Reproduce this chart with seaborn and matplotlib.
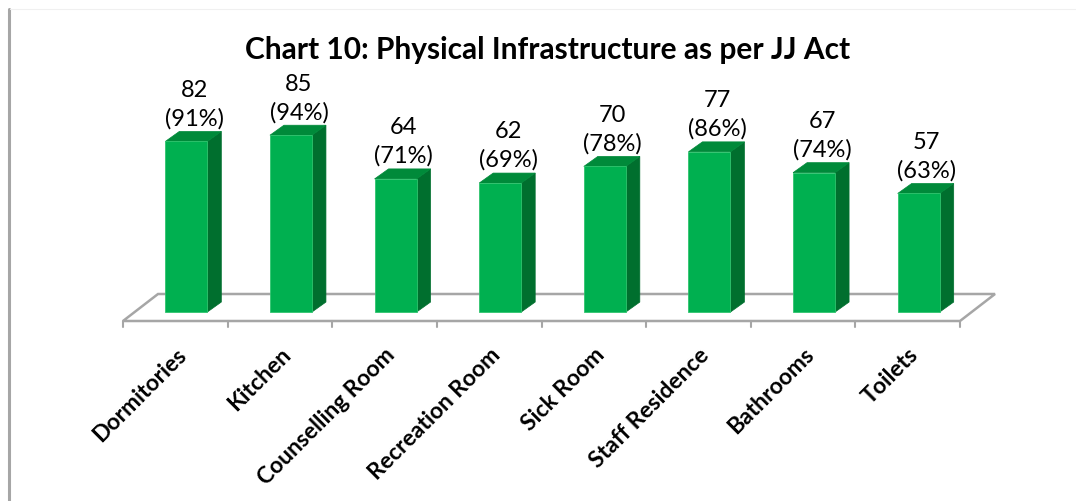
import matplotlib
matplotlib.use("Agg")
import matplotlib.pyplot as plt
import seaborn as sns
import pandas as pd
from matplotlib.patches import Polygon
from matplotlib.lines import Line2D

categories = ["Dormitories", "Kitchen", "Counselling Room", "Recreation Room",
              "Sick Room", "Staff Residence", "Bathrooms", "Toilets"]
counts = [82, 85, 64, 62, 70, 77, 67, 57]
percents = ["91%", "94%", "71%", "69%", "78%", "86%", "74%", "63%"]
title = "Chart 10: Physical Infrastructure as per JJ Act"

sns.set_theme(style="white")
plt.rcParams['font.family'] = ['Lato', 'DejaVu Sans']

W, H = 1076, 502
fig = plt.figure(figsize=(W / 100, H / 100), dpi=100)
# axes: x from -0.5..7.5 -> px 123..960 ; y from -4.3..105 -> px 322..94.6
ax = fig.add_axes([123 / W, 1 - 322 / H, (960 - 123) / W, (322 - 94.6) / H])
ax.set_xlim(-0.5, 7.5)
ax.set_ylim(-4.3, 105)

df = pd.DataFrame({"cat": categories, "val": counts})

front = "#00b050"
side = "#006f2e"
top = "#008a3a"
floor_c = "#a6a6a6"

# pixel-to-data scales
sx = 1 / 104.6
sy = (105 + 4.3) / (322 - 94.6)

# floor parallelogram
y_front = -4.3
fdx, fdy = 35 * sx, 27 * sy
floor = Polygon([(-0.5, y_front), (7.5, y_front), (7.5 + fdx, y_front + fdy),
                 (-0.5 + fdx, y_front + fdy)], closed=True, facecolor="white",
                edgecolor=floor_c, linewidth=1.8, clip_on=False, zorder=1)
ax.add_patch(floor)

# bars
bw = 42 * sx
sns.barplot(data=df, x="cat", y="val", color=front, width=bw, ax=ax,
            saturation=1, zorder=3, edgecolor="#2fc46e", linewidth=0.6)

ddx, ddy = 14 * sx, 10 * sy
for p in [pp for pp in ax.patches if pp is not floor]:
    x0 = p.get_x() + 11 * sx
    p.set_x(x0)
    w = p.get_width()
    h = p.get_height()
    sidep = Polygon([(x0 + w, 0), (x0 + w + ddx, ddy), (x0 + w + ddx, h + ddy), (x0 + w, h)],
                    closed=True, facecolor=side, edgecolor=side, linewidth=0.5, zorder=2.9)
    topp = Polygon([(x0, h), (x0 + w, h), (x0 + w + ddx, h + ddy), (x0 + ddx, h + ddy)],
                   closed=True, facecolor=top, edgecolor=top, linewidth=0.5, zorder=2.9)
    ax.add_patch(sidep)
    ax.add_patch(topp)

# value labels
for i, (c, pc) in enumerate(zip(counts, percents)):
    ax.text(i + 19 * sx, c + ddy + 1.5, f"{c}\n({pc})", ha="center", va="bottom",
            fontsize=17, color="black", linespacing=1.4, clip_on=False)

# ticks along the front floor edge
for b in range(9):
    xb = -0.5 + b
    ax.add_line(Line2D([xb, xb], [y_front, y_front - 6 * sy], color=floor_c,
                       linewidth=1.5, clip_on=False))

for s in ax.spines.values():
    s.set_visible(False)
ax.set_yticks([])
ax.set_xlabel("")
ax.set_ylabel("")
ax.tick_params(axis="x", length=0, pad=16)
ax.set_xticks(range(len(categories)))
ax.set_xticklabels(categories, rotation=45, ha="right", rotation_mode="anchor",
                   fontsize=16.5, fontweight="bold", color="black")
ax.patch.set_alpha(0)

fig.text(548 / W, 1 - 50 / H, title, ha="center", va="center", fontsize=21.5,
         fontweight="bold", color="black")

# chart area border lines
fig.add_artist(Line2D([9 / W, 9 / W], [0, 1 - 10 / H], color="#a6a6a6", linewidth=2.2))
fig.add_artist(Line2D([10 / W, 1], [1 - 10 / H, 1 - 10 / H], color="#f0f0f0", linewidth=0.8))

fig.savefig("out.png", dpi=100, facecolor="white")
